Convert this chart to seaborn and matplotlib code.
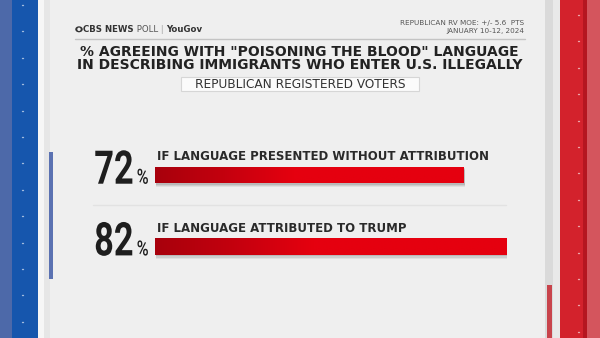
import numpy as np
import pandas as pd
import seaborn as sns
import matplotlib.pyplot as plt
from matplotlib.patches import Rectangle, Ellipse, Circle
from matplotlib.colors import LinearSegmentedColormap
from matplotlib.patheffects import AbstractPathEffect
from matplotlib.transforms import Affine2D

# ---- data ----
categories = ["IF LANGUAGE PRESENTED WITHOUT ATTRIBUTION", "IF LANGUAGE ATTRIBUTED TO TRUMP"]
values = [72, 82]
title_lines = ['% AGREEING WITH "POISONING THE BLOOD" LANGUAGE',
               "IN DESCRIBING IMMIGRANTS WHO ENTER U.S. ILLEGALLY"]
subtitle = "REPUBLICAN REGISTERED VOTERS"
moe_lines = ["REPUBLICAN RV MOE: +/- 5.6  PTS", "JANUARY 10-12, 2024"]

sns.set_theme(style="white")
plt.rcParams['font.family'] = ['DejaVu Sans']


class HSqueeze(AbstractPathEffect):
    """Horizontally condense a right-aligned text around its anchor."""
    def __init__(self, text_getter, sx):
        super().__init__()
        self.get_text = text_getter
        self.sx = sx

    def draw_path(self, renderer, gc, tpath, affine, rgbFace=None):
        t = self.get_text()
        xa = t.get_transform().transform(t.get_position())[0]
        aff = affine + Affine2D().translate(-xa, 0).scale(self.sx, 1).translate(xa, 0)
        renderer.draw_path(gc, tpath, aff, rgbFace)


def squeezed_text(axis, x, y, s, sx, **kw):
    t = axis.text(x, y, s, **kw)
    t.set_path_effects([HSqueeze(lambda: t, sx)])
    return t


fig = plt.figure(figsize=(6, 3.38), dpi=100)
fig.patch.set_facecolor('#efefef')

# ---- background frame (pixel coordinates) ----
bg = fig.add_axes([0, 0, 1, 1])
bg.set_xlim(0, 600); bg.set_ylim(338, 0); bg.axis('off')
bg.add_patch(Rectangle((0, 0), 12, 338, color='#4d69a9', lw=0))
bg.add_patch(Rectangle((12, 0), 26, 338, color='#1656ad', lw=0))
bg.add_patch(Rectangle((38, 0), 6, 338, color='#f6f6f6', lw=0))
bg.add_patch(Rectangle((44, 0), 6, 338, color='#e6e6e6', lw=0))
bg.add_patch(Rectangle((49, 152), 4, 127, color='#5b72b2', lw=0))
bg.add_patch(Rectangle((545, 0), 8, 338, color='#dadada', lw=0))
bg.add_patch(Rectangle((553, 0), 7, 338, color='#e9e9e9', lw=0))
bg.add_patch(Rectangle((547, 285), 5, 53, color='#c8434b', lw=0))
bg.add_patch(Rectangle((560, 0), 28, 338, color='#d3222c', lw=0))
bg.add_patch(Rectangle((583, 0), 4, 338, color='#b51620', lw=0))
bg.add_patch(Rectangle((587, 0), 13, 338, color='#d4555d', lw=0))
for yy in np.arange(5, 338, 26.4):
    bg.plot([21.5, 22.8], [yy, yy], color='white', lw=1.0, alpha=0.6)
for yy in np.arange(15, 338, 26.4):
    bg.plot([577.5, 578.8], [yy, yy], color='white', lw=1.0, alpha=0.6)

# header rules
bg.plot([75, 525], [38.5, 38.5], color='#c4c4c4', lw=1)
bg.plot([93, 506], [204.5, 204.5], color='#e2e2e2', lw=1)

# CBS eye logo + header
bg.add_patch(Ellipse((79, 29.3), 7.5, 6, color='#333333', lw=0))
bg.add_patch(Circle((79, 29.3), 1.7, color='#efefef', lw=0))
fig.canvas.draw()
r = fig.canvas.get_renderer()
x = 83
for txt, w, c in [("CBS NEWS", 'bold', '#333333'), (" POLL", 'normal', '#555555'),
                  (" | ", 'normal', '#aaaaaa'), ("YouGov", 'bold', '#333333')]:
    t = bg.text(x, 32.3, txt, fontsize=6.2, fontweight=w, color=c, va='baseline', ha='left')
    bb = t.get_window_extent(renderer=r)
    x += bb.width * 600 / fig.bbox.width

bg.text(524, 25.5, moe_lines[0], fontsize=5.2, color='#555555', ha='right', va='baseline')
bg.text(524, 33, moe_lines[1], fontsize=5.2, color='#555555', ha='right', va='baseline')

bg.text(299.5, 56, title_lines[0], fontsize=10.0, fontweight='bold', color='#222222',
        ha='center', va='baseline')
bg.text(299.5, 69, title_lines[1], fontsize=10.0, fontweight='bold', color='#222222',
        ha='center', va='baseline')

bg.add_patch(Rectangle((181, 76.5), 238, 14, facecolor='#fbfbfb', edgecolor='#d6d6d6', lw=0.8))
bg.text(300, 87.5, subtitle, fontsize=8.7, color='#333333', ha='center', va='baseline')

# ---- bars ----
ax = fig.add_axes([155 / 600, (338 - 282.55) / 338, 428.2 / 600, 143.4 / 338])
ax.patch.set_alpha(0)
df = pd.DataFrame({"question": categories, "pct": values})
sns.barplot(data=df, y="question", x="pct", orient="h", color="#e5000f",
            saturation=1, width=0.233, ax=ax)

cmap = LinearSegmentedColormap.from_list("rg", ["#a8000c", "#c4000e", "#e5000f"])
for p, (q, v) in zip(list(ax.patches), zip(df["question"], df["pct"])):
    x0, y0, w, h = p.get_x(), p.get_y(), p.get_width(), p.get_height()
    p.set_edgecolor('none')
    for k, a in [(0.05, 0.06), (0.035, 0.08), (0.02, 0.1)]:
        ax.add_patch(Rectangle((x0 + 0.3, y0 + k), w, h, color='black', alpha=a, lw=0, zorder=0.5))
    xs = np.linspace(0, 1, 256)
    grad = np.clip(xs / 0.45, 0, 1)[None, :]
    im = ax.imshow(grad, extent=[x0, x0 + w, y0 + h, y0], aspect='auto', cmap=cmap,
                   vmin=0, vmax=1, zorder=p.get_zorder() + 0.1)
    im.set_clip_path(p)
    ax.text(x0 + 0.45, y0 - 0.095, q, fontsize=8.5, fontweight='bold', color='#2a2a2a',
            ha='left', va='baseline')
    squeezed_text(ax, x0 - 5.0, y0 + h + 0.005, f"{v:.0f}", 0.74, fontsize=33.4,
                  fontfamily=['Roboto', 'DejaVu Sans'], fontweight='bold',
                  color='#1e1e1e', ha='right', va='baseline', clip_on=False)
    squeezed_text(ax, x0 - 1.5, y0 + h + 0.005, "%", 0.78, fontsize=15,
                  fontfamily=['Roboto', 'DejaVu Sans'], fontweight='medium',
                  color='#1e1e1e', ha='right', va='baseline', clip_on=False)

ax.set_xlim(0, 100)
ax.set_ylim(1.5, -0.5)
ax.axis('off')

fig.savefig("out.png", dpi=100, facecolor=fig.get_facecolor())
